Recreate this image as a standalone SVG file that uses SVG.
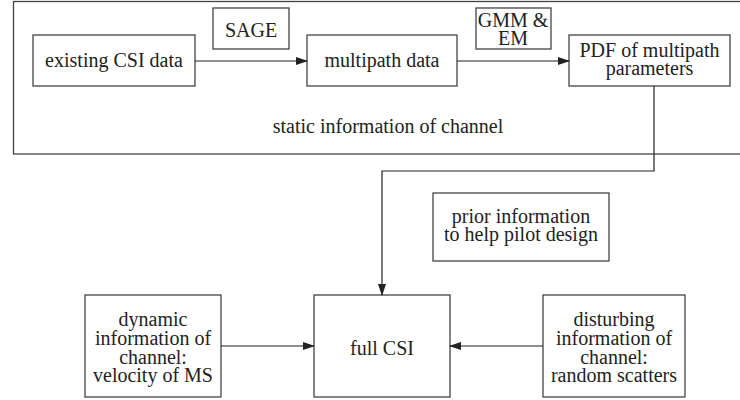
<svg xmlns="http://www.w3.org/2000/svg" width="740" height="400" viewBox="0 0 740 400" font-family="Liberation Serif, Times New Roman, DejaVu Serif, serif">
<defs>
<marker id="arr" markerWidth="12" markerHeight="8" refX="11" refY="4" orient="auto" markerUnits="userSpaceOnUse">
<path d="M0,0 L12,4 L0,8 Z" fill="#222"/>
</marker>
<style>
.box{fill:#fff;stroke:#444;stroke-width:1.3}
.frame{fill:none;stroke:#444;stroke-width:1.3}
text{font-size:20px;fill:#222;text-anchor:middle}
.conn{fill:none;stroke:#222;stroke-width:1.2;marker-end:url(#arr)}
</style>
</defs>
<rect class="frame" x="13.5" y="1.5" width="740" height="152.5"/>
<text x="388" y="133" font-family="Liberation Serif">static information of channel</text>
<g id="existing">
<rect class="box" x="33" y="35" width="162" height="51"/>
<text x="114" y="67" font-family="Liberation Serif">existing CSI data</text>
</g>
<g id="sage">
<rect class="box" x="213" y="8" width="76" height="41"/>
<text x="251" y="37" font-family="Liberation Serif">SAGE</text>
</g>
<g id="multipath">
<rect class="box" x="307" y="35" width="150" height="51"/>
<text x="382" y="67" font-family="Liberation Serif">multipath data</text>
</g>
<g id="gmm">
<rect class="box" x="476" y="8" width="75" height="41"/>
<text x="513" y="27" font-family="Liberation Serif">GMM &amp;</text>
<text x="513" y="45" font-family="Liberation Serif">EM</text>
</g>
<g id="pdf">
<rect class="box" x="569" y="35" width="161" height="51"/>
<text x="649.5" y="57" font-family="Liberation Serif">PDF of multipath</text>
<text x="649.5" y="75" font-family="Liberation Serif">parameters</text>
</g>
<g id="prior">
<rect class="box" x="433" y="193" width="176" height="68"/>
<text x="521" y="223" font-family="Liberation Serif">prior information</text>
<text x="521" y="241" font-family="Liberation Serif">to help pilot design</text>
</g>
<g id="dynamic">
<rect class="box" x="85" y="295" width="136" height="102"/>
<text x="153" y="326" font-family="Liberation Serif">dynamic</text>
<text x="153" y="345" font-family="Liberation Serif">information of</text>
<text x="153" y="364" font-family="Liberation Serif">channel:</text>
<text x="153" y="382" font-family="Liberation Serif">velocity of MS</text>
</g>
<g id="fullcsi">
<rect class="box" x="314" y="295" width="136" height="102"/>
<text x="382" y="355" font-family="Liberation Serif">full CSI</text>
</g>
<g id="disturbing">
<rect class="box" x="543" y="295" width="142" height="102"/>
<text x="614" y="326" font-family="Liberation Serif">disturbing</text>
<text x="614" y="345" font-family="Liberation Serif">information of</text>
<text x="614" y="364" font-family="Liberation Serif">channel:</text>
<text x="614" y="382" font-family="Liberation Serif">random scatters</text>
</g>
<g id="connectors">
<path class="conn" d="M195,61 H307"/>
<path class="conn" d="M457,61 H569"/>
<path class="conn" d="M654,86 V171 H382 V295"/>
<path class="conn" d="M221,346 H314"/>
<path class="conn" d="M543,346 H450"/>
</g>
</svg>
